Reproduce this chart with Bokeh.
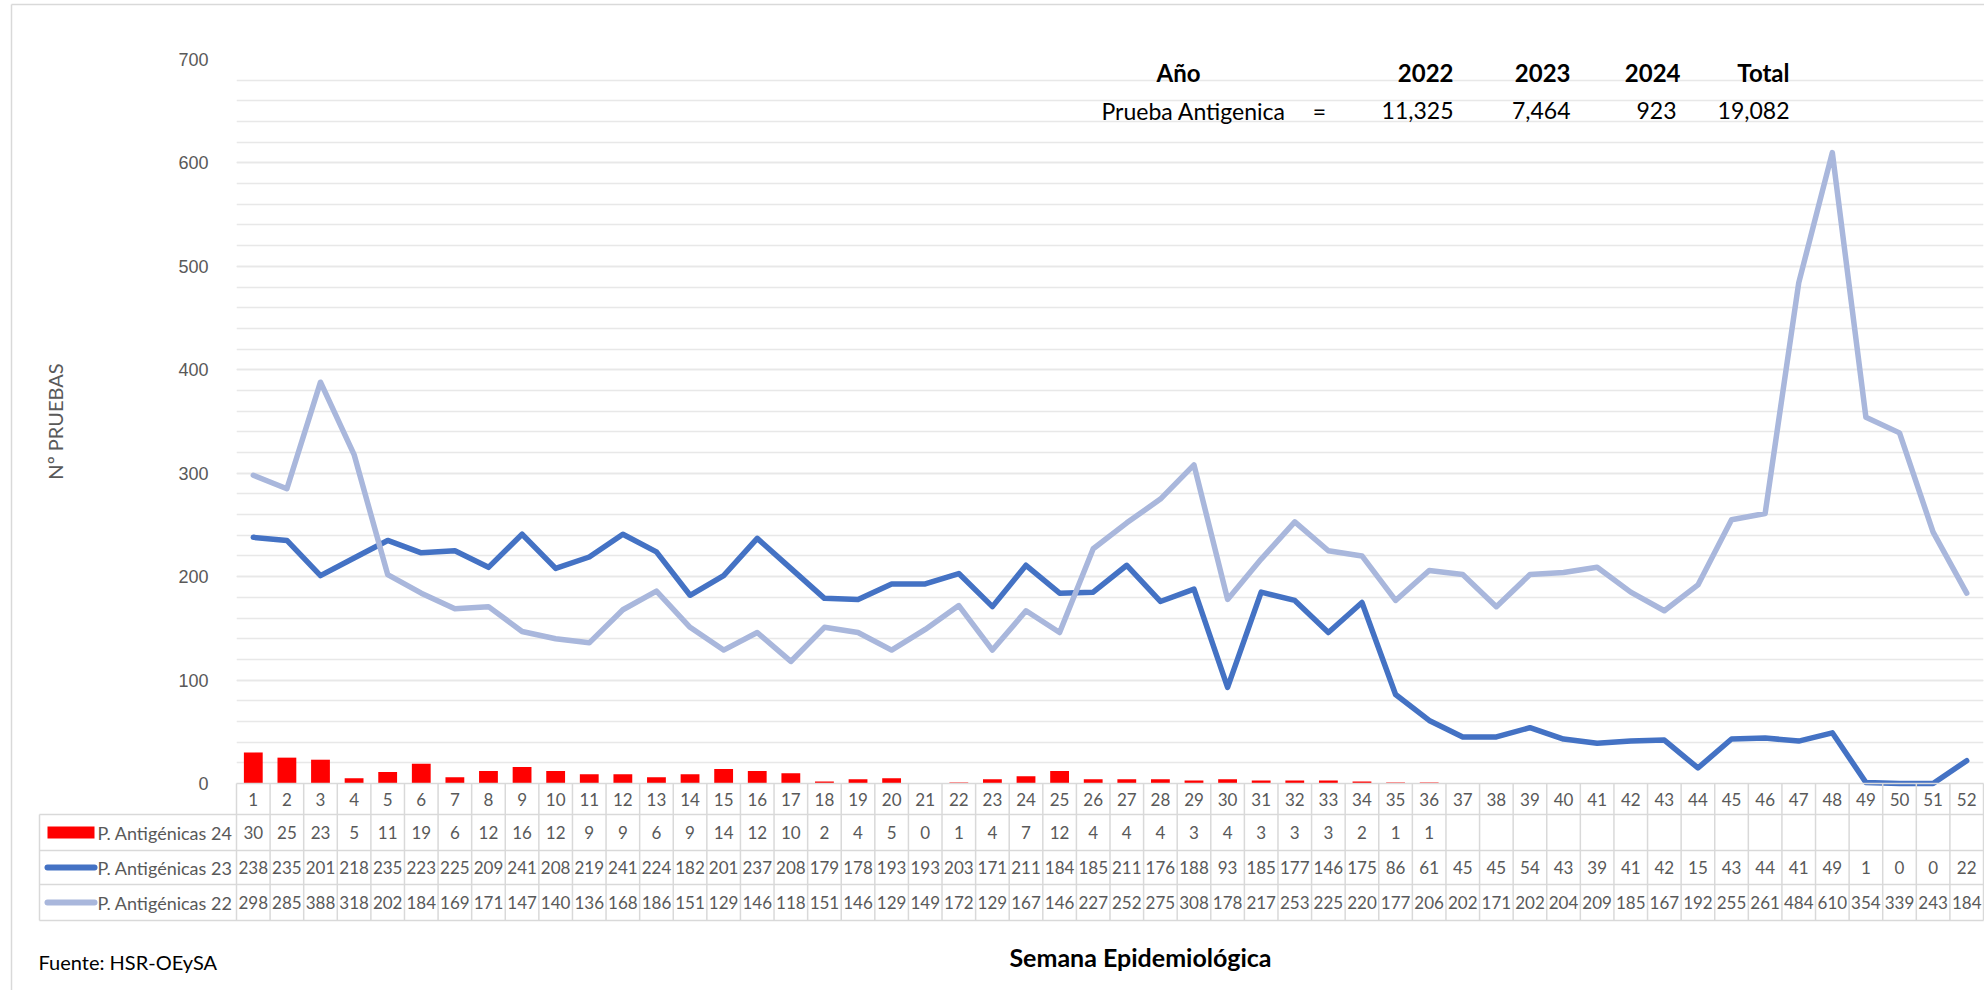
from bokeh.plotting import figure
from bokeh.models import FixedTicker, Range1d
from bokeh.core.properties import value
from bokeh.embed import file_html
from bokeh.resources import INLINE

# ---------------- data ----------------
weeks = list(range(1, 53))
pa24 = [30, 25, 23, 5, 11, 19, 6, 12, 16, 12, 9, 9, 6, 9, 14, 12, 10, 2, 4, 5,
        0, 1, 4, 7, 12, 4, 4, 4, 3, 4, 3, 3, 3, 2, 1, 1]
pa23 = [238, 235, 201, 218, 235, 223, 225, 209, 241, 208, 219, 241, 224, 182,
        201, 237, 208, 179, 178, 193, 193, 203, 171, 211, 184, 185, 211, 176,
        188, 93, 185, 177, 146, 175, 86, 61, 45, 45, 54, 43, 39, 41, 42, 15,
        43, 44, 41, 49, 1, 0, 0, 22]
pa22 = [298, 285, 388, 318, 202, 184, 169, 171, 147, 140, 136, 168, 186, 151,
        129, 146, 118, 151, 146, 129, 149, 172, 129, 167, 146, 227, 252, 275,
        308, 178, 217, 253, 225, 220, 177, 206, 202, 171, 202, 204, 209, 185,
        167, 192, 255, 261, 484, 610, 354, 339, 243, 184]
series_names = ["P. Antigénicas 24", "P. Antigénicas 23", "P. Antigénicas 22"]
years = ["2022", "2023", "2024", "Total"]
totals = ["11,325", "7,464", "923", "19,082"]
y_ticks = [0, 100, 200, 300, 400, 500, 600, 700]
y_minor = list(range(0, 701, 20))

C24, C23, C22 = "#FF0000", "#4472C4", "#A9B7DC"
GRID = "#E8E8E8"
TBL = "#D9D9D9"
TXT = "#595959"
CAL = "Lato"
SANS = "Liberation Sans"

# ---------------- layout (page px) ----------------
W, H = 1984, 990
OX, OY = 0, 0
FL, FT, FR, FB = 236, 59, 1983, 783
XS = (FR - FL) / 52.0
YS = (FB - FT) / 700.0


def dx(px):
    return 0.5 + (px - FL) / XS


def dy(py):
    return (FB - py) / YS


p = figure(width=W, height=H, x_range=Range1d(0.5, 52.5), y_range=Range1d(0, 700),
           output_backend="svg", toolbar_location=None, x_axis_location=None,
           min_border_left=FL - OX, min_border_top=FT - OY,
           min_border_right=OX + W - FR, min_border_bottom=OY + H - FB)
p.outline_line_color = None
p.background_fill_color = "white"
p.border_fill_color = "white"

ax = p.yaxis[0]
ax.ticker = FixedTicker(ticks=y_ticks, minor_ticks=y_minor)
ax.axis_line_color = None
ax.major_tick_line_color = None
ax.minor_tick_line_color = None
ax.major_label_standoff = 22
ax.major_label_text_font = SANS
ax.major_label_text_font_size = "18px"
ax.major_label_text_color = TXT
ax.axis_label = "Nº PRUEBAS"
ax.axis_label_text_font = CAL
ax.axis_label_text_font_size = "20px"
ax.axis_label_text_font_style = "normal"
ax.axis_label_text_color = TXT
ax.axis_label_standoff = 108

p.ygrid.grid_line_color = GRID
p.ygrid.grid_line_width = 1.5
p.ygrid.minor_grid_line_color = GRID
p.ygrid.minor_grid_line_width = 1.5
p.xgrid.grid_line_color = None

# ---------------- marks ----------------
p.vbar(x=weeks[:len(pa24)], top=pa24, width=0.56, fill_color=C24, line_color=None)
p.line(weeks, pa23, line_width=5.5, line_color=C23, line_join="round", line_cap="round", level="overlay")
p.line(weeks, pa22, line_width=5.5, line_color=C22, line_join="round", line_cap="round", level="overlay")

# ---------------- data table below ----------------
rows_py = [783, 814, 850, 884, 920]
row_mid = [(rows_py[i] + rows_py[i + 1]) / 2 for i in range(4)]
leg_left = 39

hx0 = [dx(FL)] + [dx(leg_left)] * 4
hx1 = [dx(FR)] * 5
hy = [dy(v) for v in rows_py]
p.segment(x0=hx0, x1=hx1, y0=hy, y1=hy, line_color=TBL, line_width=1.5, level="overlay")
vx = [k + 0.5 for k in range(53)]
p.segment(x0=vx, x1=vx, y0=[dy(rows_py[0])] * 53, y1=[dy(rows_py[-1])] * 53,
          line_color=TBL, line_width=1.5, level="overlay")
p.segment(x0=[dx(leg_left)], x1=[dx(leg_left)], y0=[dy(rows_py[1])], y1=[dy(rows_py[-1])],
          line_color=TBL, line_width=1.5, level="overlay")

cell_font = dict(text_font=value(CAL), text_font_size="17px", text_color=TXT,
                 text_align="center", text_baseline="middle", level="overlay")
p.text(x=weeks, y=[dy(row_mid[0])] * 52, text=[str(w) for w in weeks], **cell_font)
p.text(x=weeks[:len(pa24)], y=[dy(row_mid[1])] * len(pa24), text=[str(v) for v in pa24], **cell_font)
p.text(x=weeks, y=[dy(row_mid[2])] * 52, text=[str(v) for v in pa23], **cell_font)
p.text(x=weeks, y=[dy(row_mid[3])] * 52, text=[str(v) for v in pa22], **cell_font)

# legend keys
p.quad(left=[dx(47)], right=[dx(94)], top=[dy(826)], bottom=[dy(838)],
       fill_color=C24, line_color=None, level="overlay")
p.segment(x0=[dx(47)], x1=[dx(94)], y0=[dy(row_mid[2])], y1=[dy(row_mid[2])],
          line_color=C23, line_width=6, line_cap="round", level="overlay")
p.segment(x0=[dx(47)], x1=[dx(94)], y0=[dy(row_mid[3])], y1=[dy(row_mid[3])],
          line_color=C22, line_width=6, line_cap="round", level="overlay")
p.text(x=[dx(97)] * 3, y=[dy(m) for m in row_mid[1:]], text=series_names,
       text_font=value(CAL), text_font_size="18px", text_color=TXT,
       text_align="left", text_baseline="middle", level="overlay")

# ---------------- summary box ----------------
col_right = [1453, 1570, 1680, 1789]
val_right = [1453, 1570, 1676, 1789]
p.text(x=[dx(1178)], y=[dy(72)], text=["Año"], text_font=value(CAL),
       text_font_size="24px", text_font_style="bold", text_color="black",
       text_align="center", text_baseline="middle")
p.text(x=[dx(v) for v in col_right], y=[dy(72)] * 4, text=years, text_font=value(CAL),
       text_font_size="24px", text_font_style="bold", text_color="black",
       text_align="right", text_baseline="middle")
p.text(x=[dx(1101)], y=[dy(110)], text=["Prueba Antigenica"], text_font=value(CAL),
       text_font_size="23px", text_color="black", text_align="left", text_baseline="middle")
p.text(x=[dx(1319)], y=[dy(110)], text=["="], text_font=value(CAL),
       text_font_size="23px", text_color="black", text_align="center", text_baseline="middle")
p.text(x=[dx(v) for v in val_right], y=[dy(110)] * 4, text=totals, text_font=value(CAL),
       text_font_size="23px", text_color="black", text_align="right", text_baseline="middle")

# ---------------- titles / source ----------------
p.text(x=[dx(1140)], y=[dy(956)], text=["Semana Epidemiológica"], text_font=value(CAL),
       text_font_size="25px", text_font_style="bold", text_color="black",
       text_align="center", text_baseline="middle", level="overlay")
p.text(x=[dx(38)], y=[dy(961)], text=["Fuente: HSR-OEySA"], text_font=value(CAL),
       text_font_size="20px", text_color="black", text_align="left",
       text_baseline="middle", level="overlay")

# faint outer border
p.segment(x0=[dx(11), dx(11)], x1=[dx(11), dx(W)], y0=[dy(4), dy(4)], y1=[dy(H), dy(4)],
          line_color=TBL, line_width=1.5, level="overlay")

open("out.html", "w").write(file_html(p, INLINE))
